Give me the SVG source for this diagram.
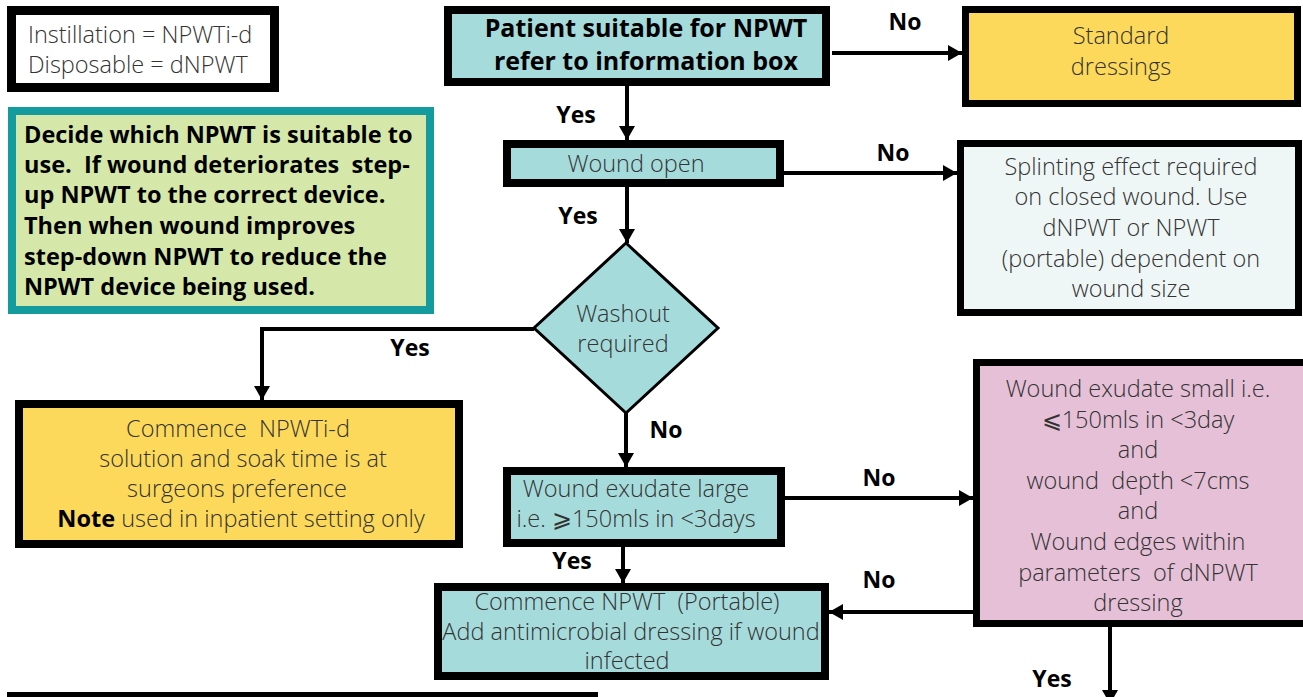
<svg xmlns="http://www.w3.org/2000/svg" width="1303" height="697" viewBox="0 0 1303 697" xml:space="preserve">
<style>
text{white-space:pre}
.box{stroke:#000;stroke-width:8}
.teal{fill:#a6dbdc}
.yellow{fill:#fcd95a}
.t{font-family:"Open Sans","Liberation Sans",sans-serif;font-weight:300;font-size:23.5px;fill:#333;text-anchor:middle}
.b{font-family:"Open Sans","Liberation Sans",sans-serif;font-weight:700;font-size:23.5px;fill:#000}
.lbl{font-family:"Open Sans","Liberation Sans",sans-serif;font-weight:700;font-size:23px;fill:#000}
.c{fill:none;stroke:#000;stroke-width:4}
</style>
<defs>
<marker id="ah" viewBox="0 0 14 16" refX="14" refY="8" markerWidth="14" markerHeight="16" markerUnits="userSpaceOnUse" orient="auto">
<path d="M0,0 L14,8 L0,16 Z" fill="#000"/>
</marker>
</defs>

<g id="info">
<rect x="11.5" y="10.5" width="263" height="77" fill="#fff" stroke="#000" stroke-width="9"/>
<text class="t" x="28" y="43" style="text-anchor:start">Instillation = NPWTi-d</text>
<text class="t" x="28" y="73" style="text-anchor:start">Disposable = dNPWT</text>
</g>

<g id="guidance">
<rect x="12" y="111" width="418" height="199" fill="#d5e8a9" stroke="#149b9e" stroke-width="8"/>
<text class="b" x="24" y="143">Decide which NPWT is suitable to</text>
<text class="b" x="24" y="173">use.  If wound deteriorates  step-</text>
<text class="b" x="24" y="203">up NPWT to the correct device.</text>
<text class="b" x="24" y="234">Then when wound improves</text>
<text class="b" x="24" y="265">step-down NPWT to reduce the</text>
<text class="b" x="24" y="295">NPWT device being used.</text>
</g>

<g id="patient">
<rect class="box teal" x="448" y="10" width="378" height="72"/>
<text class="b" x="646" y="37" text-anchor="middle" style="font-size:25px">Patient suitable for NPWT</text>
<text class="b" x="646" y="70" text-anchor="middle" style="font-size:25px">refer to information box</text>
</g>

<g id="standard">
<rect class="yellow" x="965.5" y="9.5" width="332" height="94" stroke="#000" stroke-width="7"/>
<text class="t" x="1121" y="44">Standard</text>
<text class="t" x="1121" y="75">dressings</text>
</g>

<g id="woundopen">
<rect class="box teal" x="507" y="144" width="273" height="39"/>
<text class="t" x="636" y="172">Wound open</text>
</g>

<g id="splinting">
<rect x="960.5" y="143.5" width="338" height="169" fill="#eef6f6" stroke="#000" stroke-width="7"/>
<text class="t" x="1131" y="175">Splinting effect required</text>
<text class="t" x="1131" y="205">on closed wound. Use</text>
<text class="t" x="1131" y="236">dNPWT or NPWT</text>
<text class="t" x="1131" y="267">(portable) dependent on</text>
<text class="t" x="1131" y="297">wound size</text>
</g>

<g id="washout">
<path d="M626,243 L718,328 L626,413 L534,328 Z" class="teal" stroke="#000" stroke-width="3"/>
<text class="t" x="623" y="322">Washout</text>
<text class="t" x="623" y="352">required</text>
</g>

<g id="npwtid">
<rect class="box yellow" x="19" y="404" width="440" height="140"/>
<text class="t" x="238" y="437">Commence  NPWTi-d</text>
<text class="t" x="243" y="467">solution and soak time is at</text>
<text class="t" x="237" y="497">surgeons preference</text>
<text class="t" x="241" y="527"><tspan style="font-weight:700;fill:#000">Note</tspan> used in inpatient setting only</text>
</g>

<g id="exudatelarge">
<rect class="box teal" x="507" y="471" width="274" height="72"/>
<text class="t" x="636" y="497">Wound exudate large</text>
<text class="t" x="636" y="527">i.e. ⩾150mls in &lt;3days</text>
</g>

<g id="exudatesmall">
<rect x="976.5" y="362.5" width="330" height="261" fill="#e5c0d7" stroke="#000" stroke-width="7"/>
<text class="t" x="1138" y="397">Wound exudate small i.e.</text>
<text class="t" x="1138" y="428">⩽150mls in &lt;3day</text>
<text class="t" x="1138" y="458">and</text>
<text class="t" x="1138" y="489">wound  depth &lt;7cms</text>
<text class="t" x="1138" y="519">and</text>
<text class="t" x="1138" y="550">Wound edges within</text>
<text class="t" x="1138" y="581">parameters  of dNPWT</text>
<text class="t" x="1138" y="611">dressing</text>
</g>

<g id="portable">
<rect class="box teal" x="438" y="587" width="387" height="89"/>
<text class="t" x="627" y="610">Commence NPWT  (Portable)</text>
<text class="t" x="631" y="640">Add antimicrobial dressing if wound</text>
<text class="t" x="627" y="669">infected</text>
</g>

<g id="bottombox">
<rect x="11" y="696" width="583" height="40" fill="#fff" stroke="#000" stroke-width="8"/>
</g>

<g id="connectors">
<path class="c" d="M627,86 V140" marker-end="url(#ah)"/>
<path class="c" d="M832,53 H962" marker-end="url(#ah)"/>
<path class="c" d="M784,173 H957" marker-end="url(#ah)"/>
<path class="c" d="M627,187 V243" marker-end="url(#ah)"/>
<path class="c" d="M534,329 H262 V400" marker-end="url(#ah)"/>
<path class="c" d="M626,413 V467" marker-end="url(#ah)"/>
<path class="c" d="M785,498 H973" marker-end="url(#ah)"/>
<path class="c" d="M623,547 V583" marker-end="url(#ah)"/>
<path class="c" d="M973,612 H829" marker-end="url(#ah)"/>
<path class="c" d="M1110,627 V704" marker-end="url(#ah)"/>
<text class="lbl" x="576" y="123" text-anchor="middle">Yes</text>
<text class="lbl" x="905" y="30" text-anchor="middle">No</text>
<text class="lbl" x="893" y="161" text-anchor="middle">No</text>
<text class="lbl" x="578" y="224" text-anchor="middle">Yes</text>
<text class="lbl" x="410" y="356" text-anchor="middle">Yes</text>
<text class="lbl" x="666" y="438" text-anchor="middle">No</text>
<text class="lbl" x="879" y="486" text-anchor="middle">No</text>
<text class="lbl" x="572" y="569" text-anchor="middle">Yes</text>
<text class="lbl" x="879" y="588" text-anchor="middle">No</text>
<text class="lbl" x="1052" y="687" text-anchor="middle">Yes</text>
</g>
</svg>
